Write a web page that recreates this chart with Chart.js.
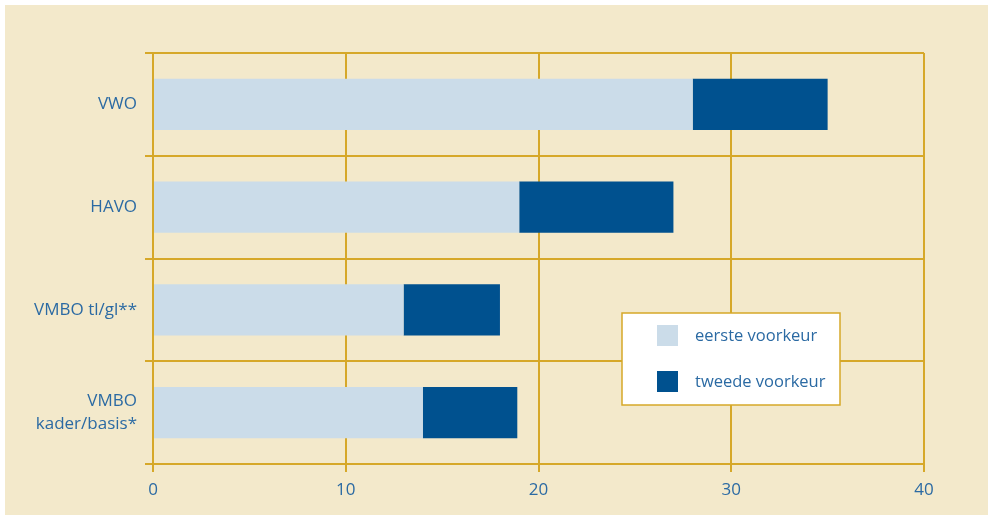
<!DOCTYPE html>
<html>
<head>
<meta charset="utf-8">
<script src="https://cdn.jsdelivr.net/npm/chart.js@4"></script>
<style>
  html, body { margin: 0; padding: 0; background: #fff; }
  #bg { position: absolute; left: 5px; top: 5px; width: 983px; height: 510px; background: #f3e9cb; }
  #wrap { position: absolute; left: 0; top: 0; width: 988px; height: 515px; }
</style>
</head>
<body>
<div id="bg"></div>
<div id="wrap"><canvas id="c" width="988" height="515"></canvas></div>
<script>
// categorieën en waarden (procenten)
const categories = ['VWO', 'HAVO', 'VMBO tl/gl**', ['VMBO', 'kader/basis*']];
const eersteVoorkeur = [28, 19, 13, 14];
const tweedeVoorkeur = [7, 8, 5, 4.9];
const xTicks = [0, 10, 20, 30, 40];

const gold = '#d6a829';
const textColor = '#2b6aa3';
const fontFam = '"Open Sans", "Noto Sans", sans-serif';

// legenda in een wit kader binnen het plotgebied
const boxLegend = {
  id: 'boxLegend',
  afterDraw(chart) {
    const ctx = chart.ctx;
    ctx.save();
    ctx.fillStyle = '#ffffff';
    ctx.fillRect(622, 313, 218, 92);
    ctx.strokeStyle = gold;
    ctx.lineWidth = 1.5;
    ctx.strokeRect(622, 313, 218, 92);
    ctx.font = '16.5px ' + fontFam;
    ctx.textBaseline = 'middle';
    chart.data.datasets.forEach((ds, i) => {
      const y = 336 + i * 46;
      ctx.fillStyle = ds.backgroundColor;
      ctx.fillRect(657, y - 11, 21, 21);
      ctx.fillStyle = textColor;
      ctx.fillText(ds.label, 695, y);
    });
    ctx.restore();
  }
};

new Chart(document.getElementById('c'), {
  type: 'bar',
  data: {
    labels: categories,
    datasets: [
      { label: 'eerste voorkeur', data: eersteVoorkeur, backgroundColor: '#cbdce9' },
      { label: 'tweede voorkeur', data: tweedeVoorkeur, backgroundColor: '#00518f' },
    ],
  },
  options: {
    indexAxis: 'y',
    responsive: false,
    animation: false,
    layout: { padding: { top: 53, right: 64, left: 0, bottom: 0 } },
    datasets: { bar: { barPercentage: 0.5, categoryPercentage: 1 } },
    plugins: { legend: { display: false }, tooltip: { enabled: false } },
    scales: {
      x: {
        stacked: true,
        min: 0,
        max: 40,
        afterBuildTicks: (s) => { s.ticks = xTicks.map((v) => ({ value: v })); },
        afterFit: (s) => { s.height = 51; },
        grid: { color: gold, lineWidth: 2, tickLength: 8 },
        border: { color: gold, width: 2 },
        ticks: { color: textColor, font: { family: fontFam, size: 17 }, padding: 8 },
      },
      y: {
        stacked: true,
        afterFit: (s) => { s.width = 153; },
        grid: { color: gold, lineWidth: 2, tickLength: 8, offset: true },
        border: { color: gold, width: 2 },
        ticks: { color: textColor, font: { family: fontFam, size: 17, lineHeight: 1.3 }, padding: 8 },
      },
    },
  },
  plugins: [boxLegend],
});
</script>
</body>
</html>
